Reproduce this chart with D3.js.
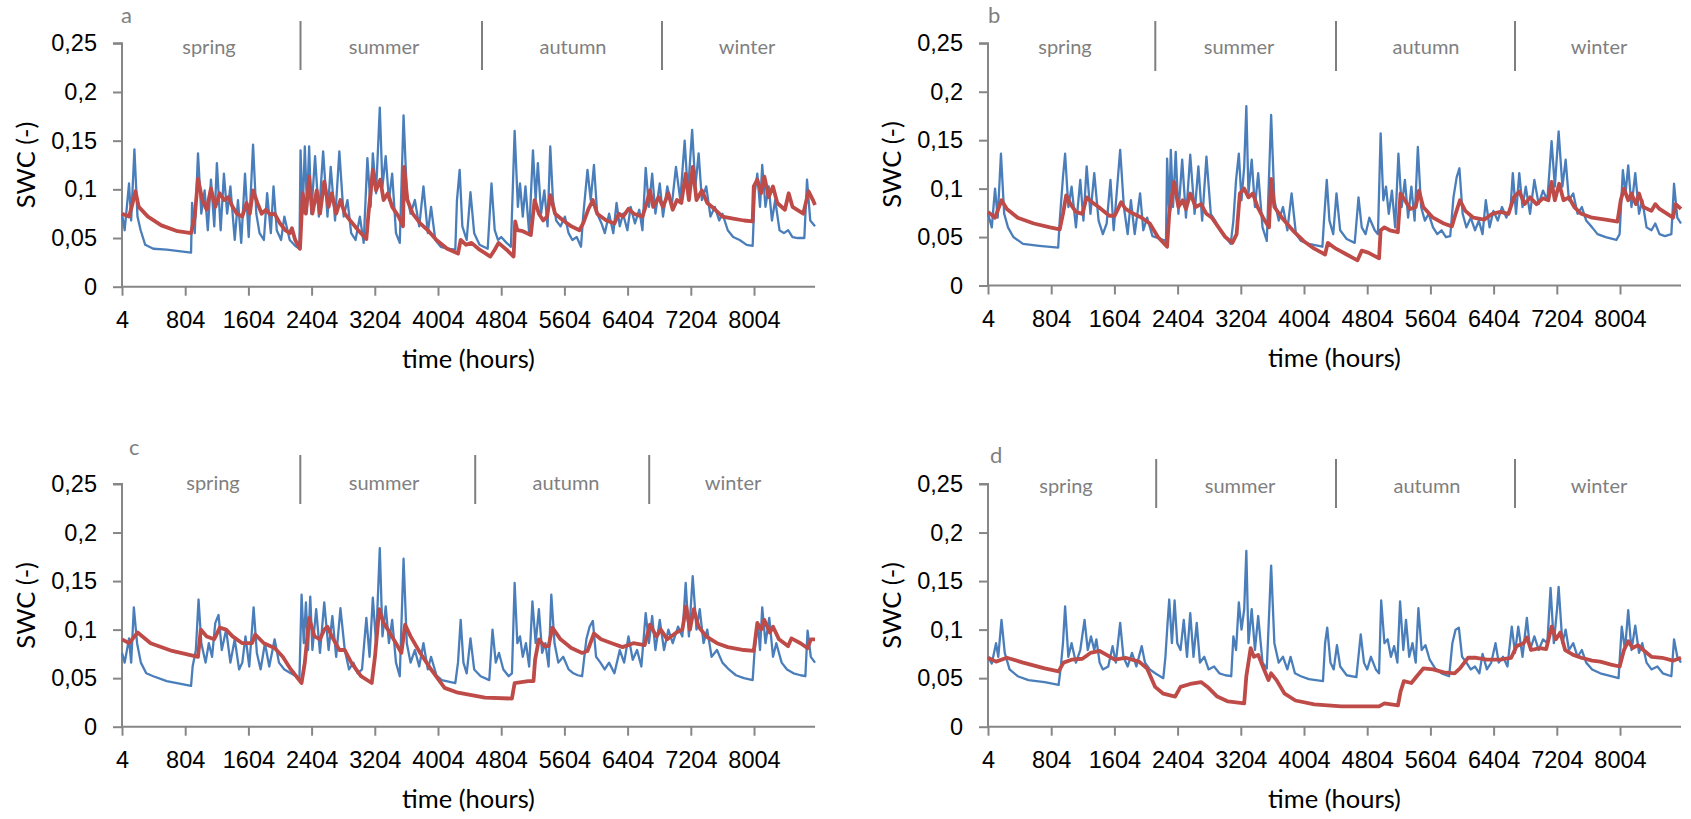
<!DOCTYPE html>
<html>
<head>
<meta charset="utf-8">
<script src="https://cdn.jsdelivr.net/npm/d3@7"></script>
<style>
  body { margin: 0; background: #fff; }
  svg { display: block; font-family: Lato, "Open Sans", sans-serif; }
</style>
</head>
<body>
<script>
// tick labels and seasons
const xTicks = [4, 804, 1604, 2404, 3204, 4004, 4804, 5604, 6404, 7204, 8004];
const yTicks = [0, 0.05, 0.1, 0.15, 0.2, 0.25];
const seasons = ["spring", "summer", "autumn", "winter"];

// series: [hour, SWC]
const blueA = [[4,.075],[38,.058],[93,.106],[120,.068],[161,.141],[200,.072],[240,.058],[298,.043],[400,.039],[570,.038],[878,.035],[891,.086],[925,.055],[966,.137],[1008,.075],[1050,.099],[1090,.058],[1130,.110],[1172,.062],[1205,.127],[1253,.058],[1294,.116],[1335,.075],[1376,.103],[1431,.048],[1472,.089],[1513,.045],[1561,.116],[1608,.051],[1663,.146],[1704,.075],[1745,.055],[1800,.048],[1841,.096],[1888,.055],[1922,.103],[1963,.058],[2018,.048],[2059,.072],[2127,.048],[2196,.042],[2250,.039],[2264,.140],[2291,.075],[2318,.144],[2346,.082],[2373,.144],[2400,.075],[2448,.134],[2496,.072],[2550,.139],[2605,.072],[2646,.123],[2701,.068],[2755,.139],[2810,.072],[2858,.089],[2905,.055],[2960,.048],[3015,.072],[3063,.045],[3110,.132],[3151,.082],[3179,.137],[3220,.096],[3267,.184],[3301,.103],[3342,.134],[3383,.089],[3424,.116],[3472,.055],[3520,.045],[3568,.176],[3609,.096],[3657,.075],[3711,.089],[3766,.062],[3820,.103],[3875,.055],[3916,.082],[3970,.048],[4039,.041],[4121,.039],[4223,.038],[4244,.089],[4278,.120],[4312,.062],[4367,.048],[4415,.097],[4462,.055],[4530,.043],[4633,.039],[4681,.106],[4722,.058],[4763,.048],[4804,.051],[4872,.045],[4927,.041],[4974,.160],[5015,.082],[5042,.106],[5077,.072],[5111,.103],[5158,.055],[5206,.140],[5240,.089],[5268,.127],[5309,.075],[5350,.099],[5391,.062],[5425,.144],[5459,.089],[5500,.068],[5555,.062],[5610,.072],[5657,.055],[5705,.048],[5760,.051],[5814,.041],[5841,.072],[5896,.120],[5937,.089],[5978,.125],[6019,.075],[6074,.065],[6115,.055],[6170,.075],[6223,.055],[6264,.086],[6305,.062],[6346,.075],[6401,.058],[6442,.082],[6497,.065],[6551,.079],[6592,.058],[6633,.122],[6674,.082],[6715,.116],[6756,.075],[6811,.106],[6852,.072],[6907,.103],[6961,.082],[7016,.123],[7071,.089],[7126,.150],[7167,.096],[7221,.161],[7262,.103],[7303,.137],[7344,.089],[7399,.103],[7453,.072],[7508,.082],[7563,.068],[7604,.075],[7672,.058],[7740,.051],[7822,.048],[7911,.043],[7987,.042],[8012,.096],[8046,.116],[8080,.082],[8108,.125],[8149,.082],[8190,.103],[8231,.068],[8272,.089],[8327,.058],[8382,.055],[8436,.058],[8491,.051],[8559,.050],[8641,.050],[8675,.110],[8716,.068],[8776,.062]];
const redA = [[4,.075],[93,.072],[127,.082],[175,.098],[216,.082],[332,.072],[502,.063],[707,.057],[878,.055],[925,.072],[966,.111],[1021,.089],[1076,.079],[1130,.101],[1185,.082],[1240,.096],[1294,.089],[1349,.092],[1404,.082],[1458,.075],[1526,.072],[1581,.086],[1622,.075],[1663,.099],[1718,.086],[1772,.075],[1827,.079],[1881,.074],[1936,.075],[2004,.065],[2072,.058],[2127,.055],[2155,.060],[2196,.048],[2257,.039],[2291,.096],[2332,.075],[2373,.113],[2414,.075],[2469,.099],[2510,.075],[2564,.108],[2619,.082],[2660,.096],[2715,.075],[2769,.089],[2824,.075],[2892,.068],[2994,.058],[3097,.049],[3124,.075],[3179,.120],[3220,.099],[3274,.110],[3315,.089],[3370,.096],[3424,.082],[3506,.072],[3561,.062],[3575,.123],[3616,.089],[3684,.075],[3779,.065],[3875,.058],[3984,.048],[4121,.039],[4257,.034],[4291,.048],[4360,.043],[4428,.045],[4530,.038],[4667,.031],[4722,.038],[4770,.045],[4872,.038],[4961,.031],[4981,.067],[5008,.058],[5077,.057],[5179,.053],[5227,.089],[5281,.075],[5336,.068],[5384,.072],[5425,.094],[5486,.075],[5589,.068],[5691,.062],[5794,.058],[5841,.065],[5909,.080],[5964,.089],[6019,.075],[6135,.068],[6237,.065],[6292,.075],[6346,.072],[6415,.080],[6483,.075],[6592,.072],[6646,.086],[6687,.099],[6728,.082],[6797,.092],[6852,.082],[6920,.096],[6975,.079],[7029,.089],[7084,.086],[7139,.116],[7180,.089],[7228,.123],[7276,.089],[7344,.099],[7412,.086],[7501,.080],[7604,.072],[7740,.070],[7877,.068],[7987,.067],[8001,.103],[8046,.110],[8094,.096],[8135,.113],[8190,.092],[8244,.103],[8299,.086],[8395,.079],[8443,.096],[8491,.082],[8627,.075],[8695,.098],[8750,.089],[8776,.084]];

const blueB = [[4,.074],[52,.060],[93,.100],[127,.070],[168,.136],[209,.074],[257,.060],[325,.050],[448,.043],[653,.041],[892,.039],[912,.067],[953,.112],[980,.136],[1021,.081],[1062,.102],[1117,.060],[1172,.109],[1212,.067],[1253,.123],[1301,.074],[1349,.116],[1404,.067],[1458,.053],[1506,.064],[1554,.109],[1595,.057],[1677,.140],[1724,.081],[1772,.053],[1813,.088],[1861,.053],[1929,.095],[1970,.057],[2018,.070],[2086,.051],[2189,.048],[2257,.046],[2271,.131],[2298,.074],[2318,.140],[2346,.081],[2380,.138],[2414,.074],[2462,.130],[2510,.070],[2564,.135],[2619,.074],[2667,.123],[2715,.067],[2769,.133],[2824,.074],[2878,.067],[2940,.057],[3008,.050],[3076,.043],[3110,.067],[3144,.109],[3179,.136],[3213,.088],[3247,.123],[3274,.185],[3301,.095],[3342,.130],[3383,.081],[3424,.116],[3479,.060],[3533,.046],[3588,.176],[3629,.088],[3684,.067],[3738,.081],[3793,.057],[3847,.095],[3902,.053],[3964,.046],[4066,.043],[4237,.040],[4257,.067],[4292,.109],[4326,.067],[4374,.053],[4415,.095],[4462,.057],[4544,.048],[4646,.044],[4694,.091],[4735,.060],[4783,.053],[4831,.070],[4899,.057],[4940,.053],[4974,.157],[5008,.088],[5042,.102],[5077,.074],[5117,.098],[5158,.060],[5199,.136],[5240,.081],[5281,.109],[5322,.070],[5363,.102],[5404,.067],[5445,.143],[5486,.081],[5534,.067],[5582,.074],[5637,.060],[5691,.053],[5746,.057],[5800,.050],[5855,.051],[5896,.091],[5937,.112],[5971,.121],[6012,.074],[6060,.060],[6114,.070],[6169,.057],[6217,.067],[6264,.053],[6305,.088],[6353,.060],[6401,.077],[6456,.067],[6510,.081],[6565,.070],[6619,.081],[6647,.116],[6688,.074],[6729,.116],[6770,.081],[6811,.102],[6865,.074],[6920,.109],[6974,.084],[7029,.098],[7084,.088],[7138,.149],[7179,.102],[7227,.159],[7275,.102],[7316,.130],[7357,.088],[7412,.095],[7467,.074],[7521,.081],[7576,.067],[7651,.060],[7719,.053],[7822,.050],[7958,.047],[7999,.053],[8040,.119],[8074,.095],[8108,.124],[8149,.081],[8197,.116],[8245,.074],[8286,.088],[8340,.060],[8402,.057],[8450,.064],[8504,.053],[8572,.051],[8654,.053],[8688,.105],[8729,.070],[8776,.064]];
const redB = [[4,.076],[93,.070],[175,.088],[243,.079],[380,.070],[584,.064],[789,.060],[912,.058],[953,.074],[994,.093],[1049,.084],[1117,.076],[1199,.074],[1253,.091],[1322,.086],[1404,.081],[1540,.072],[1608,.072],[1690,.086],[1745,.079],[1847,.074],[1950,.070],[2052,.064],[2155,.050],[2271,.040],[2298,.074],[2359,.107],[2414,.081],[2469,.088],[2510,.079],[2564,.095],[2633,.081],[2701,.084],[2769,.074],[2837,.070],[2940,.058],[3008,.050],[3097,.044],[3151,.053],[3192,.095],[3247,.100],[3301,.091],[3356,.095],[3417,.081],[3486,.070],[3561,.060],[3588,.110],[3629,.081],[3724,.070],[3861,.057],[3998,.046],[4134,.038],[4271,.032],[4305,.044],[4408,.038],[4544,.032],[4681,.026],[4735,.036],[4817,.034],[4954,.028],[4974,.057],[5022,.060],[5090,.057],[5192,.055],[5226,.095],[5281,.088],[5349,.079],[5418,.081],[5459,.098],[5513,.081],[5637,.070],[5773,.064],[5876,.061],[5923,.074],[5978,.088],[6046,.077],[6148,.070],[6285,.068],[6387,.074],[6490,.076],[6592,.074],[6660,.091],[6729,.097],[6797,.084],[6865,.091],[6947,.084],[7029,.090],[7097,.088],[7138,.107],[7179,.088],[7234,.105],[7289,.088],[7357,.091],[7425,.081],[7514,.074],[7651,.070],[7822,.068],[7972,.066],[8013,.088],[8054,.100],[8108,.088],[8149,.095],[8204,.084],[8245,.095],[8299,.081],[8402,.077],[8450,.084],[8504,.079],[8675,.070],[8709,.084],[8776,.079]];

const blueC = [[4,.076],[38,.066],[93,.091],[120,.066],[154,.123],[195,.086],[243,.066],[311,.055],[400,.052],[570,.047],[878,.042],[898,.062],[939,.079],[973,.131],[1008,.086],[1062,.066],[1103,.086],[1144,.072],[1185,.107],[1226,.115],[1267,.079],[1322,.100],[1376,.066],[1431,.090],[1486,.059],[1527,.066],[1567,.093],[1615,.062],[1670,.123],[1711,.076],[1759,.059],[1813,.086],[1868,.062],[1936,.090],[1991,.066],[2059,.059],[2141,.055],[2209,.052],[2250,.050],[2277,.136],[2305,.086],[2332,.128],[2359,.079],[2387,.134],[2414,.079],[2462,.121],[2510,.076],[2564,.128],[2619,.079],[2667,.114],[2715,.072],[2769,.122],[2824,.079],[2878,.059],[2933,.066],[2987,.055],[3042,.059],[3097,.112],[3138,.072],[3179,.133],[3220,.086],[3267,.184],[3301,.093],[3342,.124],[3383,.086],[3424,.110],[3472,.066],[3520,.052],[3568,.173],[3609,.086],[3657,.066],[3711,.079],[3766,.062],[3820,.086],[3875,.059],[3916,.072],[3984,.053],[4052,.048],[4223,.045],[4257,.066],[4291,.110],[4326,.066],[4367,.055],[4415,.091],[4462,.059],[4544,.052],[4653,.048],[4694,.100],[4735,.066],[4776,.076],[4831,.059],[4899,.052],[4940,.055],[4974,.148],[5008,.086],[5042,.093],[5077,.072],[5117,.086],[5158,.062],[5199,.129],[5240,.086],[5281,.121],[5322,.076],[5363,.086],[5404,.062],[5438,.136],[5479,.086],[5527,.066],[5589,.072],[5657,.059],[5718,.055],[5773,.053],[5828,.052],[5882,.090],[5923,.103],[5964,.109],[6005,.072],[6060,.066],[6114,.059],[6169,.066],[6237,.055],[6305,.079],[6360,.066],[6415,.093],[6469,.069],[6524,.079],[6578,.062],[6633,.117],[6674,.086],[6715,.114],[6756,.079],[6811,.110],[6865,.079],[6920,.100],[6975,.086],[7043,.103],[7097,.093],[7139,.148],[7180,.093],[7228,.155],[7276,.100],[7317,.121],[7365,.086],[7412,.100],[7467,.072],[7535,.079],[7604,.066],[7686,.059],[7775,.053],[7877,.050],[7987,.048],[8012,.079],[8053,.107],[8080,.079],[8108,.123],[8149,.086],[8197,.112],[8245,.072],[8286,.086],[8354,.066],[8422,.059],[8504,.055],[8593,.053],[8654,.052],[8682,.099],[8723,.072],[8776,.066]];
const redC = [[4,.090],[93,.086],[202,.097],[366,.086],[639,.078],[966,.072],[1001,.100],[1076,.093],[1172,.090],[1240,.102],[1322,.100],[1404,.093],[1527,.086],[1650,.086],[1691,.095],[1800,.086],[1936,.081],[2039,.072],[2141,.059],[2277,.045],[2318,.066],[2373,.112],[2441,.093],[2510,.090],[2564,.100],[2605,.103],[2660,.093],[2756,.079],[2824,.079],[2906,.066],[3029,.052],[3165,.045],[3206,.072],[3260,.121],[3315,.107],[3370,.100],[3472,.086],[3540,.076],[3588,.105],[3657,.093],[3779,.076],[3916,.059],[4087,.040],[4257,.035],[4394,.033],[4599,.030],[4940,.029],[4974,.045],[5145,.047],[5213,.047],[5233,.069],[5281,.090],[5350,.083],[5404,.083],[5452,.102],[5555,.090],[5691,.081],[5828,.076],[5896,.078],[5978,.096],[6067,.090],[6203,.086],[6340,.082],[6476,.086],[6619,.084],[6687,.105],[6769,.093],[6824,.100],[6906,.090],[7022,.097],[7097,.100],[7145,.124],[7193,.100],[7241,.121],[7303,.103],[7399,.093],[7535,.086],[7672,.082],[7877,.079],[8001,.078],[8046,.107],[8094,.100],[8135,.110],[8204,.097],[8245,.103],[8320,.090],[8436,.083],[8477,.091],[8593,.086],[8682,.081],[8723,.090],[8776,.090]];

const blueD = [[4,.072],[52,.065],[106,.086],[134,.072],[175,.110],[216,.076],[277,.059],[380,.052],[516,.048],[721,.046],[898,.043],[926,.062],[953,.086],[980,.124],[1021,.072],[1062,.086],[1117,.066],[1172,.079],[1226,.110],[1267,.079],[1308,.093],[1349,.079],[1376,.090],[1417,.066],[1458,.059],[1526,.062],[1581,.083],[1622,.066],[1677,.107],[1718,.072],[1772,.062],[1827,.076],[1882,.062],[1950,.083],[1991,.066],[2052,.059],[2120,.055],[2223,.050],[2250,.072],[2277,.107],[2298,.131],[2332,.086],[2366,.130],[2400,.086],[2441,.079],[2482,.110],[2523,.072],[2564,.117],[2605,.072],[2646,.107],[2687,.066],[2742,.072],[2796,.059],[2865,.062],[2933,.055],[3008,.053],[3083,.052],[3110,.093],[3144,.079],[3179,.128],[3213,.100],[3247,.121],[3274,.181],[3301,.086],[3342,.121],[3383,.079],[3424,.114],[3479,.066],[3533,.060],[3588,.166],[3629,.086],[3684,.066],[3738,.072],[3793,.059],[3834,.072],[3889,.055],[3964,.052],[4066,.049],[4244,.047],[4271,.086],[4298,.102],[4339,.066],[4380,.059],[4421,.084],[4462,.062],[4544,.053],[4667,.051],[4722,.095],[4763,.066],[4804,.059],[4851,.072],[4913,.059],[4954,.055],[4981,.130],[5022,.086],[5063,.090],[5104,.072],[5145,.083],[5186,.066],[5220,.129],[5261,.079],[5295,.110],[5336,.072],[5377,.086],[5418,.066],[5452,.122],[5493,.079],[5541,.084],[5595,.069],[5664,.060],[5746,.055],[5841,.052],[5882,.086],[5923,.100],[5964,.102],[6005,.072],[6060,.066],[6114,.059],[6169,.062],[6224,.055],[6264,.075],[6319,.059],[6374,.066],[6428,.086],[6469,.066],[6524,.072],[6579,.062],[6634,.103],[6675,.076],[6716,.103],[6770,.072],[6825,.112],[6866,.079],[6920,.093],[6975,.079],[7029,.090],[7084,.086],[7125,.143],[7166,.086],[7207,.121],[7227,.144],[7275,.086],[7316,.100],[7357,.079],[7412,.086],[7467,.072],[7521,.079],[7576,.066],[7651,.059],[7754,.055],[7890,.052],[7986,.050],[8026,.103],[8067,.079],[8108,.120],[8149,.079],[8197,.104],[8245,.076],[8286,.086],[8340,.066],[8402,.059],[8477,.062],[8545,.055],[8654,.052],[8688,.090],[8729,.072],[8776,.066]];
const redD = [[4,.071],[106,.067],[243,.071],[448,.066],[721,.060],[898,.057],[960,.066],[1062,.069],[1199,.070],[1301,.076],[1417,.078],[1506,.074],[1608,.069],[1745,.071],[1916,.067],[2018,.060],[2120,.041],[2223,.034],[2373,.031],[2441,.041],[2564,.044],[2701,.046],[2783,.041],[2906,.031],[3042,.026],[3247,.024],[3274,.052],[3329,.081],[3370,.072],[3424,.074],[3493,.060],[3554,.048],[3588,.055],[3656,.048],[3759,.034],[3895,.027],[4134,.023],[4476,.021],[4954,.021],[5022,.024],[5193,.022],[5226,.036],[5268,.047],[5363,.045],[5432,.052],[5514,.060],[5637,.059],[5773,.056],[5910,.055],[5978,.060],[6080,.071],[6183,.071],[6319,.069],[6490,.069],[6626,.071],[6695,.083],[6784,.086],[6825,.092],[6879,.079],[6988,.081],[7070,.080],[7138,.103],[7193,.090],[7248,.097],[7309,.079],[7412,.074],[7514,.071],[7651,.068],[7754,.067],[7890,.064],[8000,.062],[8054,.079],[8108,.088],[8163,.081],[8231,.084],[8299,.079],[8402,.072],[8538,.071],[8675,.068],[8776,.071]];

// panel layout (pixels)
const panels = [
  {id: "a", blue: blueA, red: redA, x0: 122, x1: 815, y0: 286.7, y1: 43.3,
   letter: [121, 23], seasonX: [209, 384, 573, 747], seasonY: 54, div: [300.5, 482, 662], divY: [21, 70]},
  {id: "b", blue: blueB, red: redB, x0: 988, x1: 1681, y0: 285.5, y1: 43.3,
   letter: [988, 23], seasonX: [1065, 1239, 1426, 1599], seasonY: 54, div: [1155.3, 1336, 1515], divY: [21, 71]},
  {id: "c", blue: blueC, red: redC, x0: 122, x1: 815, y0: 726.7, y1: 484,
   letter: [129, 455], seasonX: [213, 384, 566, 733], seasonY: 490, div: [300.3, 475.2, 649.2], divY: [455, 504]},
  {id: "d", blue: blueD, red: redD, x0: 988, x1: 1681, y0: 726.7, y1: 484,
   letter: [990, 463], seasonX: [1066, 1240, 1427, 1599], seasonY: 493, div: [1156.2, 1336, 1515], divY: [459, 508]}
];

const width = 1691, height = 819;
const axisColor = "#868686", greyText = "#7f7f7f";

let svg = d3.select("body").append("svg")
  .attr("width", width)
  .attr("height", height);

const fmt = d => d3.format("~g")(d).replace(".", ",");

panels.forEach(p => {
  let x = d3.scaleLinear().domain([4, 8776]).range([p.x0, p.x1]);
  let y = d3.scaleLinear().domain([0, 0.25]).range([p.y0, p.y1]);
  let g = svg.append("g");

  // y axis
  let ya = g.append("g")
    .attr("transform", `translate(${p.x0},0)`)
    .call(d3.axisLeft(y).tickValues(yTicks).tickSize(9).tickPadding(16).tickFormat(fmt));
  // x axis
  let xa = g.append("g")
    .attr("transform", `translate(0,${p.y0})`)
    .call(d3.axisBottom(x).tickValues(xTicks).tickSize(9).tickPadding(16).tickFormat(d3.format("d")));
  [ya, xa].forEach(a => {
    a.select(".domain").attr("stroke", axisColor).attr("stroke-width", 2);
    a.selectAll(".tick line").attr("stroke", axisColor).attr("stroke-width", 2);
    a.selectAll(".tick text").attr("fill", "#000").style("font-size", "23.5px");
  });
  // the x axis line runs to the end of the plot, y axis to the top tick
  xa.select(".domain").attr("d", `M${p.x0},0H${p.x1}`);
  ya.select(".domain").attr("d", `M-9,${p.y1}H0V${p.y0}`);

  // axis titles
  g.append("text")
    .attr("x", (p.x0 + p.x1) / 2).attr("y", p.y0 + 81)
    .attr("text-anchor", "middle").style("font-size", "25.5px")
    .text("time (hours)");
  g.append("text")
    .attr("transform", `translate(${p.x0 - 87},${(p.y0 + p.y1) / 2}) rotate(-90)`)
    .attr("text-anchor", "middle").style("font-size", "25.5px")
    .text("SWC (-)");

  // panel letter
  g.append("text")
    .attr("x", p.letter[0]).attr("y", p.letter[1])
    .attr("fill", greyText).style("font-size", "22px")
    .text(p.id);

  // seasons
  g.selectAll(".season").data(seasons).enter().append("text")
    .attr("x", (d, i) => p.seasonX[i]).attr("y", p.seasonY)
    .attr("text-anchor", "middle").attr("fill", greyText).style("font-size", "20px")
    .text(d => d);
  g.selectAll(".divider").data(p.div).enter().append("line")
    .attr("x1", d => d).attr("x2", d => d)
    .attr("y1", p.divY[0]).attr("y2", p.divY[1])
    .attr("stroke", "#7f7f7f").attr("stroke-width", 2);

  // lines
  let line = d3.line().x(d => x(d[0])).y(d => y(d[1]));
  g.append("path").datum(p.blue)
    .attr("d", line).attr("fill", "none")
    .attr("stroke", "#4a7ebb").attr("stroke-width", 2.3).attr("stroke-linejoin", "round");
  g.append("path").datum(p.red)
    .attr("d", line).attr("fill", "none")
    .attr("stroke", "#be4b48").attr("stroke-width", 3.8).attr("stroke-linejoin", "round");
});
</script>
</body>
</html>
